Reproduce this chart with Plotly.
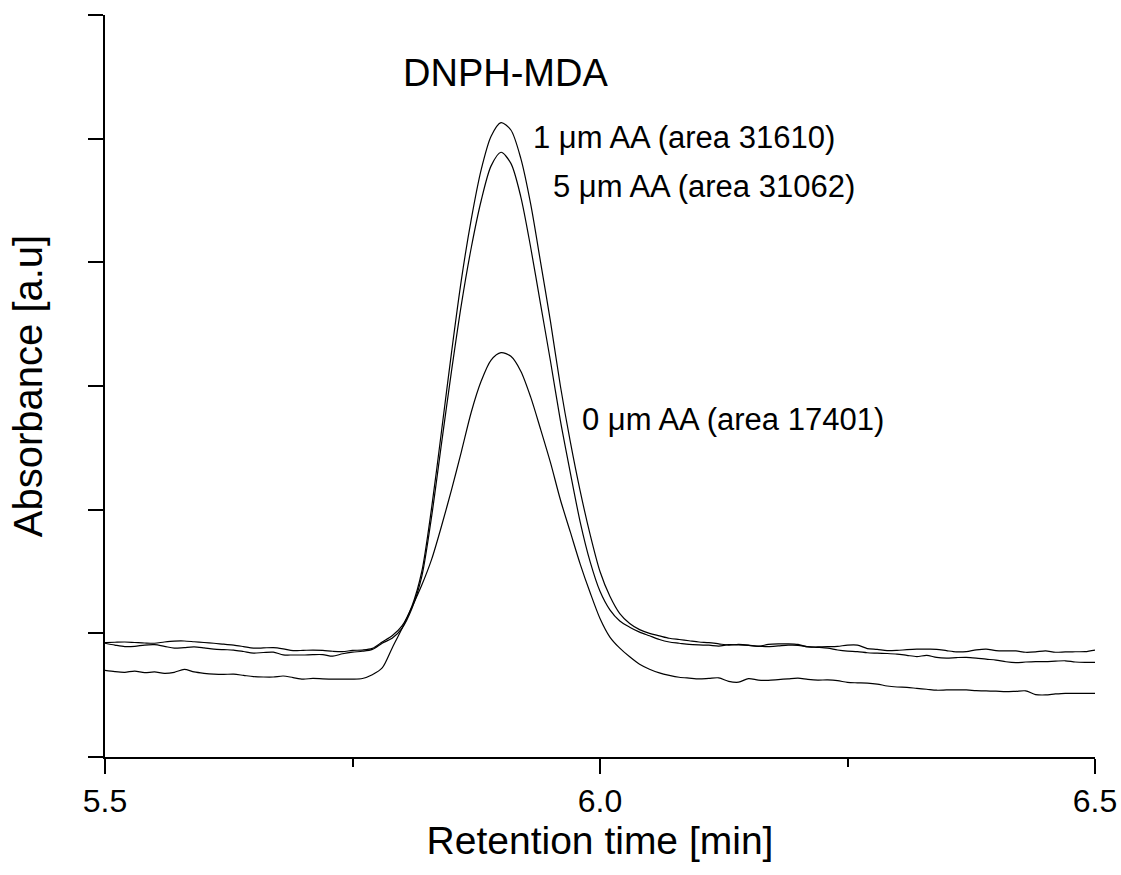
import plotly.graph_objects as go

# Retention time grid [min]
time_min = [
    5.50, 5.51, 5.52, 5.53, 5.54, 5.55, 5.56, 5.57, 5.58, 5.59,
    5.60, 5.61, 5.62, 5.63, 5.64, 5.65, 5.66, 5.67, 5.68, 5.69,
    5.70, 5.71, 5.72, 5.73, 5.74, 5.75, 5.76, 5.77, 5.78, 5.79,
    5.80, 5.81, 5.82, 5.83, 5.84, 5.85, 5.86, 5.87, 5.88, 5.89,
    5.90, 5.91, 5.92, 5.93, 5.94, 5.95, 5.96, 5.97, 5.98, 5.99,
    6.00, 6.01, 6.02, 6.03, 6.04, 6.05, 6.06, 6.07, 6.08, 6.09,
    6.10, 6.11, 6.12, 6.13, 6.14, 6.15, 6.16, 6.17, 6.18, 6.19,
    6.20, 6.21, 6.22, 6.23, 6.24, 6.25, 6.26, 6.27, 6.28, 6.29,
    6.30, 6.31, 6.32, 6.33, 6.34, 6.35, 6.36, 6.37, 6.38, 6.39,
    6.40, 6.41, 6.42, 6.43, 6.44, 6.45, 6.46, 6.47, 6.48, 6.49,
    6.50,
]

# Absorbance [a.u] for 1 µm AA
abs_1um = [
    0.925, 0.928, 0.930, 0.926, 0.922, 0.920, 0.930, 0.937, 0.938, 0.932,
    0.926, 0.920, 0.912, 0.905, 0.893, 0.880, 0.882, 0.885, 0.875, 0.860,
    0.862, 0.865, 0.862, 0.855, 0.852, 0.862, 0.865, 0.878, 0.930, 0.980,
    1.06, 1.22, 1.50, 2.02, 2.64, 3.27, 3.86, 4.35, 4.75, 5.02,
    5.13, 5.07, 4.84, 4.47, 4.00, 3.52, 3.00, 2.55, 2.15, 1.80,
    1.50, 1.30, 1.16, 1.08, 1.03, 1.00, 0.98, 0.96, 0.95, 0.94,
    0.930, 0.925, 0.915, 0.905, 0.910, 0.905, 0.895, 0.910, 0.915, 0.915,
    0.910, 0.890, 0.890, 0.892, 0.895, 0.905, 0.905, 0.877, 0.870, 0.860,
    0.862, 0.868, 0.872, 0.872, 0.871, 0.860, 0.850, 0.852, 0.866, 0.873,
    0.860, 0.858, 0.858, 0.847, 0.850, 0.858, 0.847, 0.850, 0.851, 0.852,
    0.865,
]

# Absorbance [a.u] for 5 µm AA
abs_5um = [
    0.920, 0.905, 0.893, 0.895, 0.905, 0.908, 0.895, 0.880, 0.885, 0.890,
    0.882, 0.872, 0.868, 0.865, 0.853, 0.840, 0.845, 0.848, 0.826, 0.825,
    0.825, 0.828, 0.828, 0.815, 0.835, 0.848, 0.855, 0.870, 0.920, 0.960,
    1.04, 1.20, 1.46, 1.95, 2.54, 3.12, 3.66, 4.12, 4.50, 4.78,
    4.89, 4.80, 4.53, 4.12, 3.66, 3.20, 2.72, 2.30, 1.90, 1.58,
    1.34, 1.19, 1.10, 1.05, 1.01, 0.98, 0.95, 0.93, 0.92, 0.91,
    0.906, 0.904, 0.897, 0.908, 0.906, 0.902, 0.896, 0.893, 0.898, 0.904,
    0.903, 0.892, 0.887, 0.880, 0.865, 0.856, 0.852, 0.843, 0.840, 0.837,
    0.832, 0.822, 0.812, 0.822, 0.805, 0.800, 0.804, 0.806, 0.800, 0.791,
    0.784, 0.770, 0.763, 0.768, 0.771, 0.771, 0.775, 0.778, 0.768, 0.765,
    0.765,
]

# Absorbance [a.u] for 0 µm AA
abs_0um = [
    0.700, 0.690, 0.685, 0.695, 0.682, 0.688, 0.677, 0.685, 0.708, 0.688,
    0.677, 0.670, 0.668, 0.670, 0.660, 0.650, 0.647, 0.647, 0.655, 0.642,
    0.630, 0.635, 0.632, 0.630, 0.630, 0.630, 0.635, 0.665, 0.720, 0.880,
    1.04, 1.21, 1.39, 1.60, 1.87, 2.16, 2.47, 2.79, 3.04, 3.21,
    3.27, 3.24, 3.12, 2.91, 2.65, 2.38, 2.08, 1.82, 1.56, 1.33,
    1.12, 0.97, 0.88, 0.81, 0.75, 0.71, 0.68, 0.66, 0.645, 0.638,
    0.632, 0.636, 0.640, 0.612, 0.605, 0.634, 0.622, 0.620, 0.626, 0.632,
    0.638, 0.628, 0.622, 0.623, 0.617, 0.603, 0.600, 0.598, 0.590, 0.574,
    0.566, 0.563, 0.555, 0.548, 0.540, 0.542, 0.543, 0.542, 0.537, 0.534,
    0.532, 0.528, 0.531, 0.535, 0.505, 0.502, 0.510, 0.515, 0.514, 0.515,
    0.515,
]

series_names = ["1 µm AA", "5 µm AA", "0 µm AA"]
series_values = [abs_1um, abs_5um, abs_0um]

# Peak labels and their anchor positions (data units)
label_texts = ["1 \u03bcm AA (area 31610)", "5 \u03bcm AA (area 31062)", "0 \u03bcm AA (area 17401)"]
label_x = [5.930, 5.950, 5.980]
label_y = [5.01, 4.61, 2.73]

title_text = "DNPH-MDA"
x_tick_vals = [5.5, 6.0, 6.5]
x_tick_text = ["5.5", "6.0", "6.5"]
x_minor_vals = [5.75, 6.25]
y_tick_vals = [0, 1, 2, 3, 4, 5, 6]

FONT = "Arial, Liberation Sans, sans-serif"

fig = go.Figure()
for name, vals in zip(series_names, series_values):
    fig.add_trace(go.Scatter(
        x=time_min, y=vals, mode="lines", name=name,
        line=dict(color="black", width=1.2, shape="spline", smoothing=0.8),
        showlegend=False, hoverinfo="skip",
    ))

for txt, lx, ly in zip(label_texts, label_x, label_y):
    fig.add_annotation(x=lx, y=ly, xref="x", yref="y", text=txt, showarrow=False,
                       xanchor="left", yanchor="middle",
                       font=dict(family=FONT, size=31, color="black"))

fig.add_annotation(x=5.905, y=5.53, xref="x", yref="y", text=title_text, showarrow=False,
                   xanchor="center", yanchor="middle",
                   font=dict(family=FONT, size=38, color="black"))

fig.update_layout(
    width=1121, height=875, autosize=False,
    margin=dict(l=105, r=26, t=15, b=118, pad=0),
    paper_bgcolor="white", plot_bgcolor="white",
    font=dict(family=FONT, color="black"),
)

fig.update_xaxes(
    range=[5.5, 6.5], showgrid=False, zeroline=False, automargin=False,
    showline=True, linecolor="black", linewidth=2,
    ticks="outside", ticklen=15, tickwidth=2, tickcolor="black",
    tickvals=x_tick_vals, ticktext=x_tick_text,
    tickfont=dict(family=FONT, size=32, color="black"),
    minor=dict(tickvals=x_minor_vals, ticks="outside", ticklen=8, tickwidth=2, tickcolor="black"),
    title=dict(text="Retention time [min]", font=dict(family=FONT, size=39, color="black"), standoff=6),
)

fig.update_yaxes(
    range=[0, 6], showgrid=False, zeroline=False, automargin=False,
    showline=True, linecolor="black", linewidth=2,
    ticks="outside", ticklen=15, tickwidth=2, tickcolor="black",
    tickvals=y_tick_vals, showticklabels=False,
    title=dict(text="Absorbance [a.u]", font=dict(family=FONT, size=40, color="black"), standoff=33),
)

fig.write_html("out.html",
               config={"displayModeBar": False},
               post_script="document.body.style.margin='0';document.body.style.padding='0';")
